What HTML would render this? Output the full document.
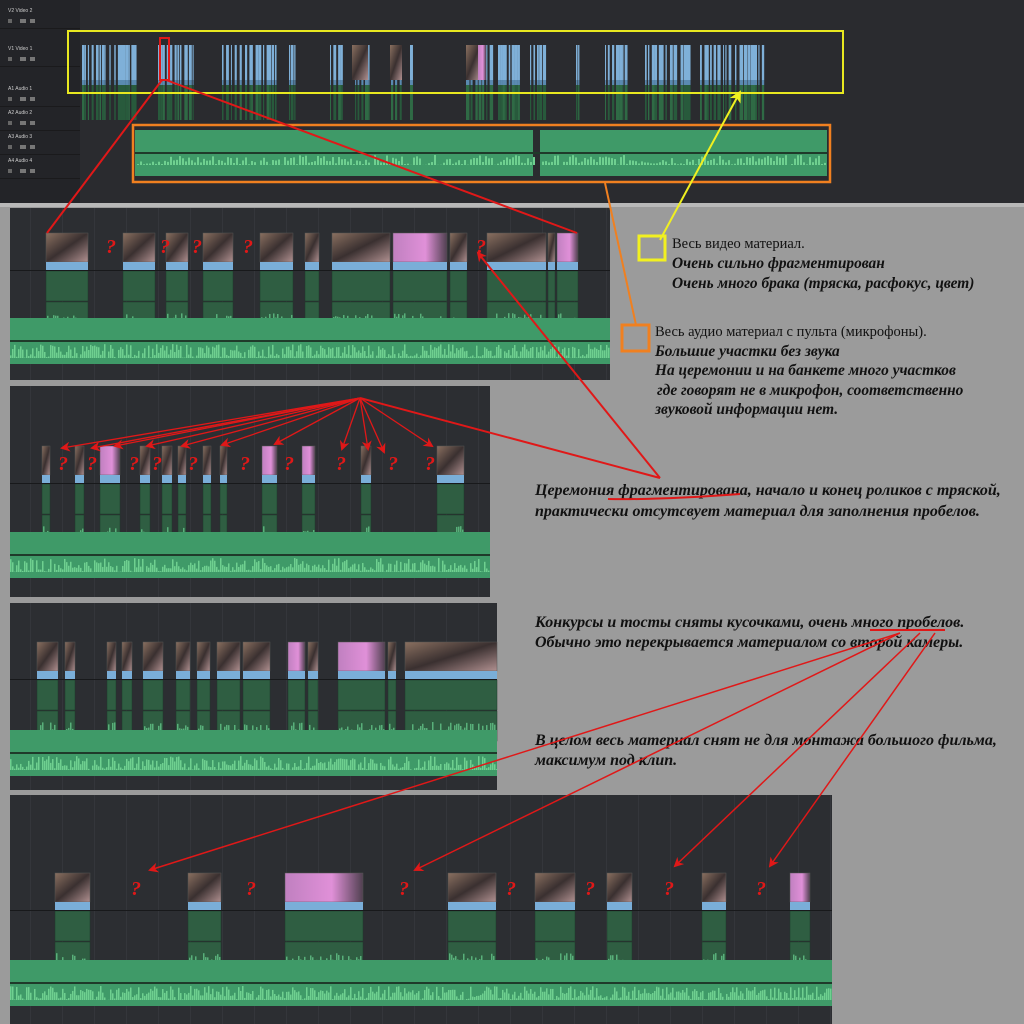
<!DOCTYPE html>
<html><head><meta charset="utf-8">
<style>
html,body{margin:0;padding:0;background:#9b9b9b;width:1024px;height:1024px;overflow:hidden}
svg{display:block}
.t{font-family:"Liberation Serif",serif;font-size:14.5px;fill:#111}
.b{font-weight:bold;font-style:italic;font-size:15.4px}
.c{font-size:16px}
.q{font-family:"Liberation Serif",serif;font-weight:bold;font-style:italic;font-size:20px;fill:#e01818}
</style></head><body>
<svg id="s" width="1024" height="1024" viewBox="0 0 1024 1024" xmlns="http://www.w3.org/2000/svg">
<defs>
<marker id="ar" markerWidth="10" markerHeight="10" refX="8" refY="5" orient="auto" markerUnits="userSpaceOnUse"><path d="M0,0 L10,5 L0,10 L3,5z" fill="#e01818"/></marker>
<marker id="ay" markerWidth="12" markerHeight="12" refX="10" refY="6" orient="auto" markerUnits="userSpaceOnUse"><path d="M0,0 L12,6 L0,12 L3,6z" fill="#f0f020"/></marker>
<linearGradient id="th" x1="0" y1="0" x2="1" y2="1"><stop offset="0" stop-color="#8a7060"/><stop offset=".5" stop-color="#3a3030"/><stop offset="1" stop-color="#b09090"/></linearGradient>
<linearGradient id="tp" x1="0" y1="0" x2="1" y2="0"><stop offset="0" stop-color="#c080c0"/><stop offset=".6" stop-color="#e090d8"/><stop offset="1" stop-color="#504050"/></linearGradient>
</defs>
<rect width="1024" height="1024" fill="#9b9b9b"/>
<g id="g"></g>
<rect x="639" y="236" width="26" height="24" fill="none" stroke="#f2f020" stroke-width="3"/>
<rect x="622" y="325" width="27" height="26" fill="none" stroke="#f08020" stroke-width="3"/>
<text class="t" x="672" y="248">Весь видео материал.</text>
<text class="t b" x="672" y="268">Очень сильно фрагментирован</text>
<text class="t b" x="672" y="288">Очень много брака (тряска, расфокус, цвет)</text>
<text class="t" x="655" y="336">Весь аудио материал с пульта (микрофоны).</text>
<text class="t b" x="655" y="356">Большие участки без звука</text>
<text class="t b" x="655" y="375">На церемонии и на банкете много участков</text>
<text class="t b" x="657" y="395">где говорят не в микрофон, соответственно</text>
<text class="t b" x="655" y="414">звуковой информации нет.</text>
<text class="t b c" x="535" y="495">Церемония фрагментирована, начало и конец роликов с тряской,</text>
<text class="t b c" x="535" y="516">практически отсутсвует материал для заполнения пробелов.</text>
<text class="t b c" x="535" y="627">Конкурсы и тосты сняты кусочками, очень много пробелов.</text>
<text class="t b c" x="535" y="647">Обычно это перекрывается материалом со второй камеры.</text>
<text class="t b c" x="535" y="745">В целом весь материал снят не для монтажа большого фильма,</text>
<text class="t b c" x="535" y="765">максимум под клип.</text>
<g id="ov"></g>
</svg>
<script>
var g=document.getElementById('g'),ov=document.getElementById('ov'),h='';
function R(x,y,w,hh,f,ex){h+='<rect x="'+x+'" y="'+y+'" width="'+w+'" height="'+hh+'" fill="'+f+'" '+(ex||'')+'/>';}
R(0,0,1024,205,'#2a2b2f');R(0,0,80,205,'#232428');R(0,203,1024,4,'#b8b8b8');
var lab=[['V2','Video 2',8],['V1','Video 1',46],['A1','Audio 1',86],['A2','Audio 2',110],['A3','Audio 3',134],['A4','Audio 4',158]];
lab.forEach(function(l){h+='<text x="8" y="'+(l[2]+4)+'" font-family="Liberation Sans" font-size="5" fill="#ccc">'+l[0]+'  '+l[1]+'</text>';R(8,l[2]+11,4,4,'#666');R(20,l[2]+11,6,4,'#777');R(30,l[2]+11,5,4,'#777');R(0,l[2]+20,80,1,'#1a1a1c');});
var s=7;function rnd(){s=(s*9301+49297)%233280;return s/233280;}
var segs=[[82,137],[158,193],[222,240],[245,260],[263,278],[289,295],[330,345],[355,372],[391,402],[410,412],[466,490],[498,520],[530,545],[576,580],[605,625],[645,690],[700,730],[735,765]];
segs.forEach(function(sg){for(var x=sg[0];x<sg[1];x+=2+rnd()*3){var w=1+rnd()*2.5;R(x,45,w,35,'#7fb0d8');R(x,80,w,5,'#5a8ab0');R(x,85,w,35,rnd()>.5?'#2f6a45':'#285a3c');}});
R(352,45,16,35,'url(#th)');R(466,45,14,35,'url(#th)');R(390,45,12,35,'url(#th)');R(478,45,8,35,'url(#tp)');
R(135,130,398,46,'#3f9a68');R(540,130,287,46,'#3f9a68');R(135,152,692,2,'#1f3a2a');
for(var x=137;x<826;x+=3){if(x>533&&x<540)continue;var hh=rnd()*10;R(x,165-hh,2,hh,'#6fd090');}
h+='<rect x="133" y="125" width="697" height="57" fill="none" stroke="#f08020" stroke-width="2.5"/>';
h+='<rect x="68" y="31" width="775" height="62" fill="none" stroke="#e8e820" stroke-width="2"/>';
h+='<rect x="160" y="38" width="9" height="42" fill="none" stroke="#e01818" stroke-width="2"/>';
function panel(px,py,pw,ph,ty,clips,qs,qy,band){
 R(px,py,pw,ph,'#2c2e32');
 for(var x=px+20;x<px+pw;x+=32)R(x,py,1,ph,'#34363b');
 clips.forEach(function(c){var w=c[1]-c[0];
  R(c[0],ty,w,29,c[2]?'url(#tp)':'url(#th)','stroke="#555" stroke-width=".5"');
  R(c[0],ty+29,w,8,'#7aaed8');
  R(c[0],ty+38,w,30,'#2f5e42','stroke="#1e3a2a" stroke-width=".5"');
  if(!c[3])R(c[0],ty+69,w,30,'#2f5e42','stroke="#1e3a2a" stroke-width=".5"');
  for(var x=c[0]+1;x<c[1]-1;x+=2){var a=rnd()*14;R(x,ty+94-a,1.5,a,'#58b07a');}
 });
 R(px,ty+37,pw,1,'#18191b');
 R(px,band,pw,46,'#3f9a68');R(px,band+22,pw,2,'#1f3a2a');
 for(var x=px;x<px+pw;x+=2){var a=rnd()*14;R(x,band+40-a,1.5,a,'#6fd090');}
 qs.forEach(function(q){h+='<text class="q" x="'+q+'" y="'+qy+'">?</text>';});
}
panel(10,208,600,172,233,[[46,88],[123,155],[166,188],[203,233],[260,293],[305,319],[332,390],[393,447,1],[450,467],[487,546],[548,555],[557,578,1]],[106,160,192,243,476],253,318);
panel(10,386,480,211,446,[[42,50],[75,84],[100,120,1],[140,150],[162,172],[178,186],[203,211],[220,227],[262,277,1],[302,315,1],[361,371],[437,464]],[58,87,129,152,188,240,284,336,388,425],470,532);
panel(10,603,487,187,642,[[37,58],[65,75],[107,116],[122,132],[143,163],[176,190],[197,210],[217,240],[243,270],[288,305,1],[308,318],[338,385,1],[388,396],[405,497]],[],0,730);
panel(10,795,822,229,873,[[55,90],[188,221],[285,363,1],[448,496],[535,575],[607,632],[702,726],[790,810,1]],[131,246,399,506,585,664,756],895,960);
g.innerHTML=h;
var o='';
function L(a,b,c,d,col,w,m){o+='<line x1="'+a+'" y1="'+b+'" x2="'+c+'" y2="'+d+'" stroke="'+col+'" stroke-width="'+(w||2)+'" '+(m?'marker-end="url(#'+m+')"':'')+'/>';}
L(162,80,47,233,'#e01818',2);L(166,80,577,233,'#e01818',2);
L(660,240,740,92,'#f0f020',2,'ay');L(636,325,605,183,'#f08020',2);
L(660,478,478,253,'#e01818',2,'ar');L(660,478,360,398,'#e01818',2);
[[62,448],[92,448],[115,446],[147,446],[182,446],[222,445],[275,444],[342,449],[368,449],[384,452],[432,446]].forEach(function(p){L(360,398,p[0],p[1],'#e01818',1.3,'ar');});
o+='<path d="M608,499 Q660,500 740,494" stroke="#e01818" stroke-width="2" fill="none"/>';
o+='<line x1="870" y1="630" x2="945" y2="630" stroke="#e01818" stroke-width="2"/>';
L(900,633,150,870,'#e01818',1.5,'ar');L(900,633,415,870,'#e01818',1.5,'ar');
L(920,633,675,866,'#e01818',1.5,'ar');L(935,633,770,866,'#e01818',1.5,'ar');
ov.innerHTML=o;
</script>
</body></html>
